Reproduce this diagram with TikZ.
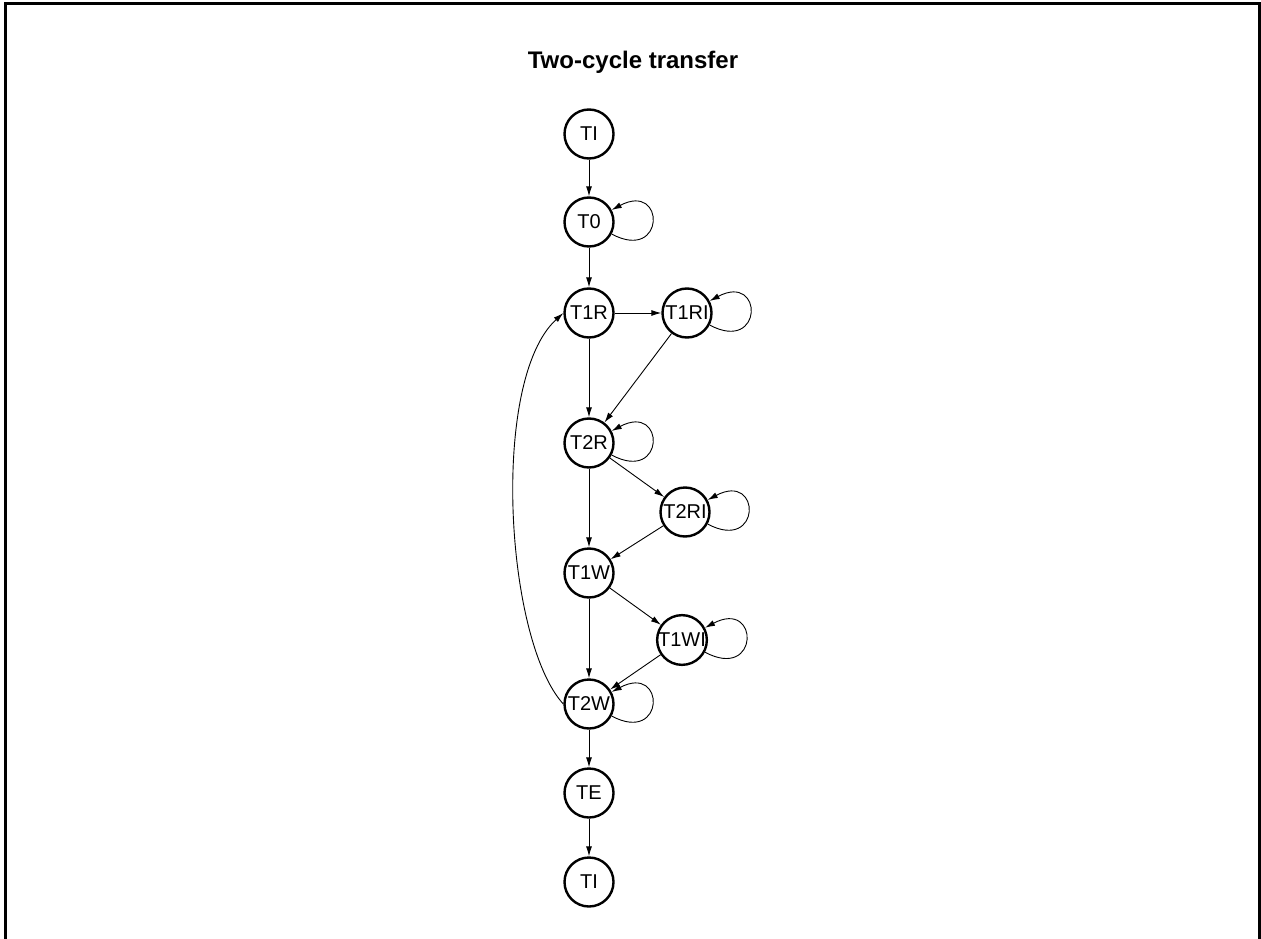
\documentclass[tikz,border=0pt]{standalone}
\usepackage{fontspec}
\setmainfont{Liberation Sans}
\usetikzlibrary{arrows.meta,positioning,calc}

\begin{document}
\begin{tikzpicture}[x=1pt, y=-1pt,
  state/.style={draw, circle, line width=2.4pt, minimum size=49pt, inner sep=0pt,
    font=\fontsize{20}{20}\selectfont},
  trans/.style={line width=0.9pt, -{Latex[length=10pt,width=6pt]}},
  selfloop/.style={trans, out=-28, in=28, looseness=6.5}]
\useasboundingbox (0,0) rectangle (1261,939);
% open frame
\draw[line width=3pt] (5,939) -- (5,4) -- (1259,4) -- (1259,939);
\node[font=\fontsize{24}{24}\selectfont\bfseries] (title) at (633,62) {Two-cycle transfer};
% states
\node[state] (TIa) at (589,134) {TI};
\node[state] (T0)  at (589,222) {T0};
\node[state] (T1R) at (589,313) {T1R};
\node[state] (T1RI) at (687,313) {T1RI};
\node[state] (T2R) at (589,443) {T2R};
\node[state] (T2RI) at (685,512) {T2RI};
\node[state] (T1W) at (589,573) {T1W};
\node[state] (T1WI) at (682,640) {T1WI};
\node[state] (T2W) at (589,704) {T2W};
\node[state] (TE)  at (589,793) {TE};
\node[state] (TIb) at (589,882) {TI};
% main column
\draw[trans] (TIa) -- (T0);
\draw[trans] (T0) -- (T1R);
\draw[trans] (T1R) -- (T2R);
\draw[trans] (T2R) -- (T1W);
\draw[trans] (T1W) -- (T2W);
\draw[trans] (T2W) -- (TE);
\draw[trans] (TE) -- (TIb);
% side states
\draw[trans] (T1R) -- (T1RI);
\draw[trans] (T1RI) -- (T2R);
\draw[trans] (T2R) -- (T2RI);
\draw[trans] (T2RI) -- (T1W);
\draw[trans] (T1W) -- (T1WI);
\draw[trans] (T1WI) -- (T2W);
% self loops
\foreach \s in {T0,T1RI,T2R,T2RI,T1WI,T2W}
  \draw[selfloop] (\s) to (\s);
% back to T1R
\draw[trans] (T2W.west) .. controls (505,640) and (490,380) .. (T1R.west);
\end{tikzpicture}
\end{document}
